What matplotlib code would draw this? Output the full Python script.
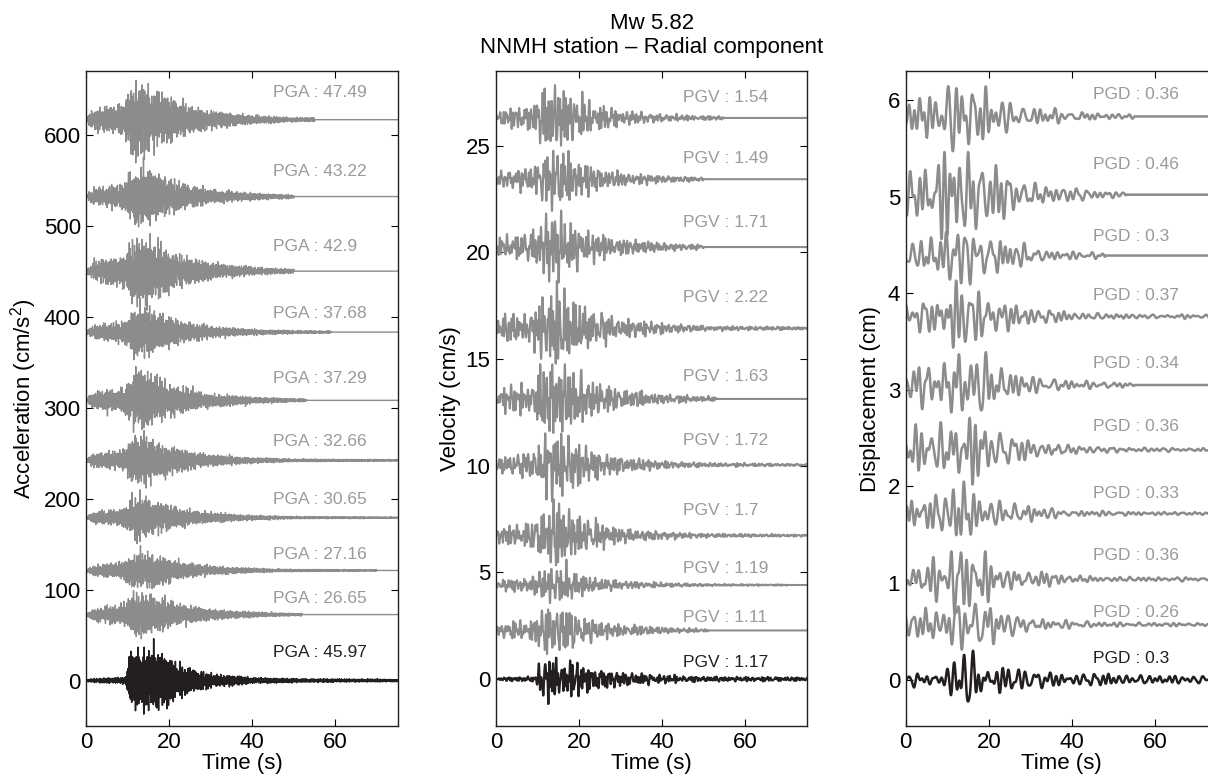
import numpy as np
import matplotlib.pyplot as plt

plt.rcParams['font.family'] = ['Liberation Sans', 'DejaVu Sans']
plt.rcParams['mathtext.default'] = 'regular'

# traces are listed from the bottom (reference, black) to the top
acc_offsets = [0, 72.5, 121, 179, 242, 308, 383, 450, 532, 616.5]
acc_peaks = [45.97, 26.65, 27.16, 30.65, 32.66, 37.29, 37.68, 42.9, 43.22, 47.49]
acc_label_y = [30.4, 89.8, 138.5, 199, 262.3, 331.9, 404, 477, 559.7, 646.9]
acc_end = [75, 52, 70, 75, 75, 53, 59, 50, 50, 55]

vel_offsets = [0, 2.28, 4.41, 6.73, 10.04, 13.13, 16.44, 20.25, 23.43, 26.3]
vel_peaks = [1.17, 1.11, 1.19, 1.7, 1.72, 1.63, 2.22, 1.71, 1.49, 1.54]
vel_label_y = [0.79, 2.89, 5.17, 7.89, 11.17, 14.2, 17.9, 21.39, 24.4, 27.26]
vel_end = [75, 51, 70, 75, 75, 53, 75, 50, 50, 55]

dis_offsets = [0, 0.57, 1.04, 1.72, 2.38, 3.05, 3.76, 4.39, 5.02, 5.83]
dis_peaks = [0.3, 0.26, 0.36, 0.33, 0.36, 0.34, 0.37, 0.3, 0.46, 0.36]
dis_label_y = [0.22, 0.70, 1.28, 1.93, 2.62, 3.27, 3.98, 4.59, 5.33, 6.06]
dis_end = [75, 75, 75, 75, 75, 55, 75, 48, 53, 55]

# amplitude envelopes (fraction of peak) at these times
env_time = [0, 2, 5, 8, 9.5, 10.5, 12, 14, 17, 20, 22, 25, 30, 40, 50, 75]
acc_env_gray = [0.05, 0.25, 0.3, 0.33, 0.45, 0.65, 0.85, 0.85, 0.65, 0.5, 0.42, 0.32, 0.2, 0.1, 0.05, 0.03]
acc_env_black = [0.04, 0.06, 0.08, 0.1, 0.12, 0.9, 0.95, 0.95, 0.95, 0.85, 0.55, 0.4, 0.22, 0.1, 0.06, 0.04]
vel_env_gray = [0.15, 0.3, 0.33, 0.38, 0.5, 0.7, 0.95, 1.0, 0.85, 0.6, 0.5, 0.38, 0.23, 0.12, 0.06, 0.03]
vel_env_black = [0.0, 0.08, 0.08, 0.1, 0.12, 0.8, 0.85, 0.85, 0.8, 0.65, 0.5, 0.4, 0.28, 0.15, 0.1, 0.07]
dis_env_gray = [0.4, 0.5, 0.55, 0.6, 0.7, 0.85, 0.95, 1.0, 0.85, 0.6, 0.5, 0.4, 0.25, 0.12, 0.07, 0.04]
dis_env_black = [0.1, 0.2, 0.15, 0.15, 0.25, 0.4, 0.8, 1.0, 0.8, 0.45, 0.4, 0.35, 0.3, 0.2, 0.15, 0.1]

GRAY = '#8c8c8c'
TEXT_GRAY = '#9a9a9a'
BLACK = '#231f20'


def make_trace(t, env, band, idx, peak, t_end):
    # quasi-periodic carrier built from many incommensurate sines
    k = np.arange(1, 81)
    freqs = band[0] + (band[1] - band[0]) * ((k * 0.6180339887 + idx * 0.1234) % 1)
    phases = 2 * np.pi * ((k * k * 0.3247180 + k * idx * 0.1713 + idx * 0.4142) % 1)
    wave = np.zeros_like(t)
    for f, p in zip(freqs, phases):
        wave += np.sin(2 * np.pi * f * t + p)
    wave *= np.interp(t, env_time, env)
    wave[t > t_end] = 0
    return wave * peak / np.abs(wave).max()


def draw_panel(ax, offsets, peaks, label_y, ends, env_gray, env_black,
               band, fs, lw_gray, lw_black, tag, seed):
    t = np.arange(0, 75, 1.0 / fs)
    for i in range(len(offsets) - 1, -1, -1):
        black = i == 0
        env = env_black if black else env_gray
        y = offsets[i] + make_trace(t, env, band, i + seed, peaks[i], ends[i])
        ax.plot(t, y, color=BLACK if black else GRAY,
                lw=lw_black if black else lw_gray, zorder=3 if black else 2)
        ax.text(45, label_y[i], f"{tag} : {peaks[i]:g}", fontsize=12.5,
                color=BLACK if black else TEXT_GRAY, va='center', ha='left')


fig = plt.figure(figsize=(12.08, 7.77), dpi=100)
ax1 = fig.add_axes([0.0714, 0.0656, 0.2578, 0.843])
ax2 = fig.add_axes([0.4106, 0.0656, 0.2578, 0.843])
ax3 = fig.add_axes([0.7498, 0.0656, 0.2578, 0.843])

draw_panel(ax1, acc_offsets, acc_peaks, acc_label_y, acc_end,
           acc_env_gray, acc_env_black, (2.0, 9.0), 50, 1.0, 1.1, 'PGA', 1)
draw_panel(ax2, vel_offsets, vel_peaks, vel_label_y, vel_end,
           vel_env_gray, vel_env_black, (0.4, 2.5), 20, 1.5, 1.6, 'PGV', 4)
draw_panel(ax3, dis_offsets, dis_peaks, dis_label_y, dis_end,
           dis_env_gray, dis_env_black, (0.25, 0.9), 10, 1.8, 1.8, 'PGD', 7)

ax1.set_ylim(-50, 670)
ax1.set_yticks(range(0, 601, 100))
ax1.set_ylabel('Acceleration (cm/s$^2$)', fontsize=16, labelpad=3)
ax2.set_ylim(-2.2, 28.5)
ax2.set_yticks(range(0, 26, 5))
ax2.set_ylabel('Velocity (cm/s)', fontsize=16, labelpad=3)
ax3.set_ylim(-0.48, 6.3)
ax3.set_yticks(range(0, 7))
ax3.set_ylabel('Displacement (cm)', fontsize=16, labelpad=5)

for ax in (ax1, ax2, ax3):
    ax.set_xlim(0, 75)
    ax.set_xticks([0, 20, 40, 60])
    ax.set_xlabel('Time (s)', fontsize=16, labelpad=0)
    ax.tick_params(direction='in', top=True, right=True, length=5,
                   width=0.8, labelsize=16, pad=4)
    for sp in ax.spines.values():
        sp.set_linewidth(1.0)
        sp.set_color(BLACK)

ax2.set_title('Mw 5.82\nNNMH station \u2013 Radial component', fontsize=16, pad=13)

fig.savefig('out.png', dpi=100)
